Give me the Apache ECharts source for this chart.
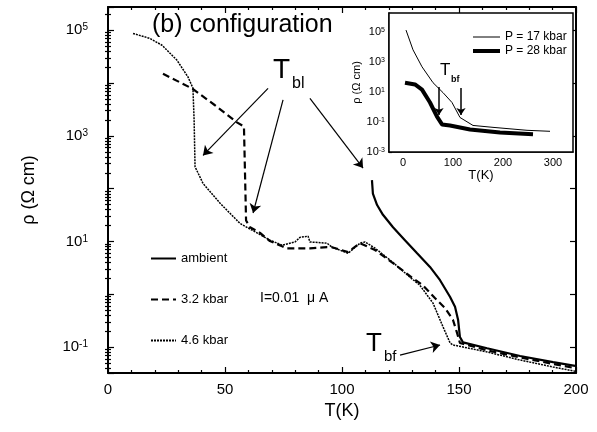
<!DOCTYPE html>
<html>
<head>
<meta charset="utf-8">
<script src="https://cdn.jsdelivr.net/npm/echarts@6/dist/echarts.min.js"></script>
<style>html,body{margin:0;padding:0;background:#fff}#c{width:597px;height:432px}</style>
</head>
<body>
<div id="c"></div>
<script>
// ---------- data ----------
const T_ambient = [112.8, 113.2, 115.0, 117.5, 121.8, 126.9, 132.1, 137.6, 141.9, 146.2, 148.3, 149.6, 150.4, 151.7, 162.0, 176.1, 190.2, 199.6];
const rho_ambient = [145, 81, 49, 32, 18.6, 10.6, 6.0, 3.3, 1.85, 0.89, 0.58, 0.33, 0.155, 0.123, 0.095, 0.068, 0.052, 0.044];

const T_32 = [23.5, 29.5, 35.9, 45.7, 55.1, 58.1, 59.0, 60.7, 65.0, 69.2, 74.4, 76.5, 86.3, 93.6, 95.7, 102.6, 107.7, 114.1, 121.8, 129.1, 134.6, 139.7, 144.0, 147.4, 149.1, 150.4, 162.0, 176.1, 190.2, 199.6];
const rho_32 = [1.5e4, 1.1e4, 7.9e3, 3.8e3, 1.8e3, 1.5e3, 25, 18.6, 14.5, 10.2, 8.1, 7.4, 7.4, 7.8, 7.8, 6.3, 9.3, 6.9, 3.9, 2.2, 1.48, 0.85, 0.55, 0.33, 0.19, 0.12, 0.087, 0.064, 0.048, 0.040];

const T_46 = [10.7, 17.9, 23.1, 29.5, 34.2, 36.3, 36.8, 37.2, 40.6, 47.9, 56.4, 62.0, 69.2, 74.4, 79.9, 82.1, 85.5, 86.3, 93.6, 95.7, 102.6, 107.7, 109.8, 114.1, 121.8, 129.1, 133.3, 138.9, 143.2, 146.2, 147.4, 162.0, 176.1, 190.2, 199.6];
const rho_46 = [8.7e4, 7.0e4, 5.2e4, 2.7e4, 1.3e4, 8.0e3, 2.0e3, 2.6e2, 126, 53, 22, 16, 10.6, 8.5, 9.8, 12, 12.6, 9.8, 9.3, 7.8, 6.0, 9.3, 9.8, 7.5, 4.0, 2.1, 1.48, 0.68, 0.24, 0.12, 0.11, 0.081, 0.057, 0.042, 0.035];

// inset
const T_17 = [6, 20, 38, 60, 80, 98, 114, 140, 180, 248, 294];
const rho_17 = [1.35e5, 6.5e3, 4.8e2, 42, 9.1, 2.0, 0.2, 0.059, 0.044, 0.028, 0.024];
const T_28 = [4, 24, 38, 54, 68, 78, 94, 134, 194, 260];
const rho_28 = [42, 32, 14.5, 2.0, 0.23, 0.069, 0.059, 0.032, 0.020, 0.015];

const seriesNames = ['ambient', '3.2 kbar', '4.6 kbar'];
const insetNames = ['P = 17 kbar', 'P = 28 kbar'];
const xLabelsInset = [0, 100, 200, 300];

// ---------- helpers ----------
const FONT = 'Liberation Sans, Arial, sans-serif';
const zip = (xs, ys) => xs.map((x, i) => [x, ys[i]]);
const yMin = Math.pow(10, -1.49), yMax = Math.pow(10, 5.44);
const iyMin = 1e-3, iyMax = Math.pow(10, 6.27);

function minorLogs(lo, hi) {
  const out = [];
  for (let n = Math.floor(lo) - 1; n <= Math.ceil(hi); n++) {
    for (let k = 2; k <= 9; k++) {
      const v = n + Math.log10(k);
      if (v > lo && v < hi) out.push(+v.toFixed(4));
    }
  }
  return out;
}
function majorLogs(lo, hi) {
  const out = [];
  for (let n = Math.ceil(lo); n <= Math.floor(hi); n++) out.push(n);
  return out;
}
function powLabel(v) {
  const e = Math.log10(v);
  const r = Math.round(e);
  if (Math.abs(e - r) > 0.02 || Math.abs(r) % 2 !== 1) return '';
  return '{b|10}{s|' + (r < 0 ? '-' + (-r) : r) + '}';
}
const lmin = Math.log10(yMin), lmax = Math.log10(yMax);

const chart = echarts.init(document.getElementById('c'), null, {renderer: 'canvas'});
const tickStyle = {color: '#000', width: 1.2};
const arrowLine = (a, b) => [{coord: a}, {coord: b}];

const option = {
  animation: false,
  backgroundColor: '#fff',
  textStyle: {fontFamily: FONT, color: '#000'},
  grid: [
    {left: 108, top: 7, width: 468, height: 366, show: false},
    {left: 389, top: 13, width: 184, height: 139, show: true, backgroundColor: '#fff', borderColor: '#000', borderWidth: 1.5, z: 5}
  ],
  legend: [
    {
      data: seriesNames, orient: 'vertical', left: 145, top: 247, itemWidth: 25, itemHeight: 14, itemGap: 28,
      itemStyle: {opacity: 0},
      textStyle: {fontSize: 13, fontFamily: FONT, color: '#000'}, selectedMode: false
    },
    {
      data: [
        {name: insetNames[0], lineStyle: {width: 1}},
        {name: insetNames[1], lineStyle: {width: 4}}
      ],
      orient: 'vertical', left: 466, top: 26, itemWidth: 27, itemHeight: 12, itemGap: 2,
      itemStyle: {opacity: 0},
      textStyle: {fontSize: 12, fontFamily: FONT, color: '#000'}, selectedMode: false, z: 10
    }
  ],
  xAxis: [
    {
      type: 'value', gridIndex: 0, min: 0, max: 200, interval: 50, position: 'bottom',
      name: 'T(K)', nameLocation: 'middle', nameGap: 27, nameTextStyle: {fontSize: 18, fontFamily: FONT, color: '#000'},
      axisLine: {show: true, onZero: false, lineStyle: {color: '#000', width: 2}},
      axisTick: {show: true, inside: true, length: 6, lineStyle: tickStyle},
      minorTick: {show: true, splitNumber: 5, length: 3, lineStyle: tickStyle},
      axisLabel: {fontSize: 15, color: '#000', margin: 9, fontFamily: FONT},
      splitLine: {show: false}
    },
    {
      type: 'value', gridIndex: 0, min: 0, max: 200, interval: 50, position: 'top',
      axisLine: {show: true, onZero: false, lineStyle: {color: '#000', width: 2}},
      axisTick: {show: true, inside: true, length: 6, lineStyle: tickStyle},
      minorTick: {show: true, splitNumber: 5, length: 3, lineStyle: tickStyle},
      axisLabel: {show: false}, splitLine: {show: false}
    },
    {
      type: 'value', gridIndex: 1, min: -28, max: 340, position: 'bottom',
      name: 'T(K)', nameLocation: 'middle', nameGap: 14, nameTextStyle: {fontSize: 13, fontFamily: FONT, color: '#000'},
      axisLine: {show: true, onZero: false, lineStyle: {color: '#000', width: 1.5}},
      axisTick: {show: true, inside: true, length: 3, customValues: [0, 50, 100, 150, 200, 250, 300], lineStyle: tickStyle},
      axisLabel: {fontSize: 11, color: '#000', margin: 5, customValues: xLabelsInset, fontFamily: FONT},
      splitLine: {show: false}
    }
  ],
  yAxis: [
    {
      type: 'log', gridIndex: 0, min: yMin, max: yMax, logBase: 10, splitNumber: 6, position: 'left',
      name: 'ρ (Ω cm)', nameLocation: 'middle', nameGap: 70, nameRotate: 90,
      nameTextStyle: {fontSize: 18, fontFamily: FONT, color: '#000'},
      axisLine: {show: true, onZero: false, lineStyle: {color: '#000', width: 2}},
      axisTick: {show: true, inside: true, length: 6, lineStyle: tickStyle},
      axisLabel: {
        formatter: powLabel, margin: 20, showMinLabel: true, showMaxLabel: true,
        rich: {b: {fontSize: 15, fontFamily: FONT, color: '#000', verticalAlign: 'bottom'}, s: {fontSize: 10, fontFamily: FONT, color: '#000', verticalAlign: 'top'}}
      },
      splitLine: {show: false}
    },
    {
      type: 'value', gridIndex: 0, min: lmin, max: lmax, position: 'left',
      axisLine: {show: false}, axisLabel: {show: false}, splitLine: {show: false},
      axisTick: {show: true, inside: true, length: 3, customValues: minorLogs(lmin, lmax), lineStyle: tickStyle}
    },
    {
      type: 'value', gridIndex: 0, min: lmin, max: lmax, position: 'right',
      axisLine: {show: true, onZero: false, lineStyle: {color: '#000', width: 2}}, axisLabel: {show: false}, splitLine: {show: false},
      axisTick: {show: true, inside: true, length: 6, customValues: majorLogs(lmin, lmax), lineStyle: tickStyle}
    },
    {
      type: 'value', gridIndex: 0, min: lmin, max: lmax, position: 'right',
      axisLine: {show: false}, axisLabel: {show: false}, splitLine: {show: false},
      axisTick: {show: true, inside: true, length: 3, customValues: minorLogs(lmin, lmax), lineStyle: tickStyle}
    },
    {
      type: 'log', gridIndex: 1, min: iyMin, max: iyMax, logBase: 10, splitNumber: 10, position: 'left',
      name: 'ρ (Ω cm)', nameLocation: 'middle', nameGap: 21, nameRotate: 90,
      nameTextStyle: {fontSize: 11, fontFamily: FONT, color: '#000'},
      axisLine: {show: true, onZero: false, lineStyle: {color: '#000', width: 1.5}},
      axisTick: {show: true, inside: true, length: 3, lineStyle: tickStyle},
      axisLabel: {
        formatter: powLabel, margin: 4,
        rich: {b: {fontSize: 11, fontFamily: FONT, color: '#000', verticalAlign: 'bottom'}, s: {fontSize: 7, fontFamily: FONT, color: '#000', verticalAlign: 'top'}}
      },
      splitLine: {show: false}
    }
  ],
  series: [
    {
      name: 'ambient', type: 'line', xAxisIndex: 0, yAxisIndex: 0, data: zip(T_ambient, rho_ambient),
      symbol: 'none', lineStyle: {color: '#000', width: 2.2, type: 'solid'}, itemStyle: {color: '#000'},
      markLine: {
        silent: true, symbol: ['none', 'arrow'], symbolSize: 9, label: {show: false},
        lineStyle: {color: '#000', width: 1.2, type: 'solid'}, animation: false,
        data: [
          arrowLine([68.4, Math.pow(10, 3.90)], [40.6, Math.pow(10, 2.63)]),
          arrowLine([74.8, Math.pow(10, 3.68)], [62.0, Math.pow(10, 1.54)]),
          arrowLine([86.3, Math.pow(10, 3.71)], [109.0, Math.pow(10, 2.39)]),
          arrowLine([124.8, Math.pow(10, -1.15)], [141.9, Math.pow(10, -0.96)])
        ]
      }
    },
    {
      name: '3.2 kbar', type: 'line', xAxisIndex: 0, yAxisIndex: 0, data: zip(T_32, rho_32),
      symbol: 'none', lineStyle: {color: '#000', width: 2.2, type: [7, 4]}, itemStyle: {color: '#000'}
    },
    {
      name: '4.6 kbar', type: 'line', xAxisIndex: 0, yAxisIndex: 0, data: zip(T_46, rho_46),
      symbol: 'none', lineStyle: {color: '#000', width: 1.5, type: [2, 1]}, itemStyle: {color: '#000'}
    },
    {
      name: 'P = 17 kbar', type: 'line', xAxisIndex: 2, yAxisIndex: 4, data: zip(T_17, rho_17), z: 10,
      symbol: 'none', lineStyle: {color: '#000', width: 1}, itemStyle: {color: '#000'},
      markLine: {
        silent: true, symbol: ['none', 'arrow'], symbolSize: 7, label: {show: false},
        lineStyle: {color: '#000', width: 1.5, type: 'solid'}, animation: false,
        data: [
          arrowLine([72, Math.pow(10, 1.33)], [72, Math.pow(10, -0.53)]),
          arrowLine([116, Math.pow(10, 1.27)], [116, Math.pow(10, -0.53)])
        ]
      }
    },
    {
      name: 'P = 28 kbar', type: 'line', xAxisIndex: 2, yAxisIndex: 4, data: zip(T_28, rho_28), z: 10,
      symbol: 'none', lineStyle: {color: '#000', width: 4}, itemStyle: {color: '#000'}
    }
  ],
  graphic: [
    {type: 'text', x: 152, y: 25, style: {text: '(b) configuration', font: '25px ' + FONT, fill: '#000', verticalAlign: 'middle'}},
    {type: 'text', x: 273, y: 70, style: {text: 'T', font: '28px ' + FONT, fill: '#000', verticalAlign: 'middle'}},
    {type: 'text', x: 292, y: 84, style: {text: 'bl', font: '16px ' + FONT, fill: '#000', verticalAlign: 'middle'}},
    {type: 'text', x: 366, y: 344, style: {text: 'T', font: '26px ' + FONT, fill: '#000', verticalAlign: 'middle'}},
    {type: 'text', x: 384, y: 357, style: {text: 'bf', font: '15px ' + FONT, fill: '#000', verticalAlign: 'middle'}},
    {type: 'text', x: 260, y: 298, style: {text: 'I=0.01  μ A', font: '14px ' + FONT, fill: '#000', verticalAlign: 'middle'}},
    {type: 'text', x: 440, y: 70, z: 20, style: {text: 'T', font: '17px ' + FONT, fill: '#000', verticalAlign: 'middle'}},
    {type: 'text', x: 451, y: 80, z: 20, style: {text: 'bf', font: 'bold 9px ' + FONT, fill: '#000', verticalAlign: 'middle'}}
  ]
};
chart.setOption(option);
</script>
</body>
</html>
